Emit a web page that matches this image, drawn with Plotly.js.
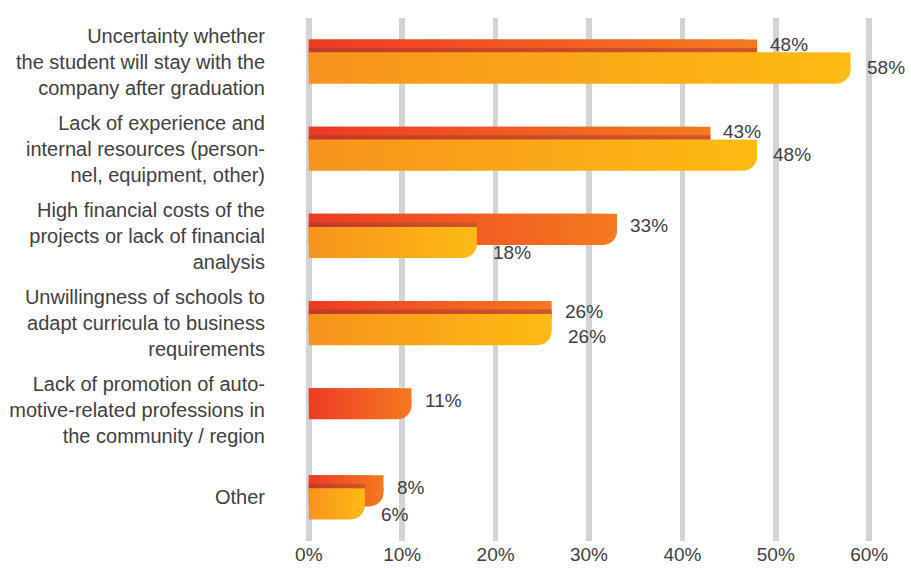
<!DOCTYPE html>
<html>
<head>
<meta charset="utf-8">
<script src="https://cdn.plot.ly/plotly-3.0.1.min.js"></script>
<style>
  html, body { margin: 0; padding: 0; background: #ffffff; }
  #chart { width: 911px; height: 568px; }
</style>
</head>
<body>
<div id="chart"></div>
<script>
// ---- data ----
var categories = [
  "Uncertainty whether<br>the student will stay with the<br>company after graduation",
  "Lack of experience and<br>internal resources (person-<br>nel, equipment, other)",
  "High financial costs of the<br>projects or lack of financial<br>analysis",
  "Unwillingness of schools to<br>adapt curricula to business<br>requirements",
  "Lack of promotion of auto-<br>motive-related professions in<br>the community / region",
  "Other"
];
var seriesRed = [48, 43, 33, 26, 11, 8];
var seriesYellow = [58, 48, 18, 26, null, 6];
var xTickValues = [0, 10, 20, 30, 40, 50, 60];
var xTickLabels = ["0%", "10%", "20%", "30%", "40%", "50%", "60%"];

// ---- styles ----
var FONT = "Liberation Sans, Arial, Helvetica, sans-serif";
var TEXT_COLOR = "#414042";
var BAR_W = 0.356, RED_OFF = -0.253, YEL_OFF = -0.103, SHADOW_W = 0.052;

// shadow band where the front bar overlaps the back bar
var shadowVals = seriesRed.map(function (r, i) {
  var y = seriesYellow[i];
  return (y === null) ? null : Math.min(r, y);
});

function barTrace(name, x, offset, width, color, rounded, grad) {
  return {
    type: "bar", orientation: "h", name: name,
    y: categories, x: x, offset: offset, width: width,
    marker: { color: color, cornerradius: rounded ? 14 : 0, line: { width: 0 } },
    showlegend: false, hoverinfo: "skip", meta: grad
  };
}

var data = [
  barTrace("Red", seriesRed, RED_OFF, BAR_W, "#F15A24", true, "gRed"),
  barTrace("Red top", seriesRed, RED_OFF, BAR_W / 2, "#F15A24", false, "gRed"),
  barTrace("Shadow", shadowVals, YEL_OFF - SHADOW_W, SHADOW_W, "#C8492B", false, "gShadow"),
  barTrace("Yellow", seriesYellow, YEL_OFF, BAR_W, "#FAA61A", true, "gYel"),
  barTrace("Yellow top", seriesYellow, YEL_OFF, BAR_W / 2, "#FAA61A", false, "gYel")
];

// ---- value labels ----
var annotations = [];
categories.forEach(function (c, i) {
  var r = seriesRed[i], y = seriesYellow[i];
  var rShift, yShift;
  if (y === null) { rShift = -10; }
  else if (r < y) { rShift = -17; yShift = 6; }
  else if (r === y) { rShift = -12; yShift = 13; }
  else { rShift = -10; yShift = 17; }
  annotations.push({
    x: r, y: c, xref: "x", yref: "y", text: r + "%", showarrow: false,
    xanchor: "left", yanchor: "middle", xshift: 11, yshift: -rShift,
    font: { family: FONT, size: 19, color: TEXT_COLOR }
  });
  if (y !== null) {
    annotations.push({
      x: y, y: c, xref: "x", yref: "y", text: y + "%", showarrow: false,
      xanchor: "left", yanchor: "middle", xshift: 14, yshift: -yShift,
      font: { family: FONT, size: 19, color: TEXT_COLOR }
    });
  }
});

var layout = {
  width: 911, height: 568,
  margin: { l: 305.7, r: 38.7, t: 18, b: 27, pad: 0 },
  paper_bgcolor: "#ffffff", plot_bgcolor: "#ffffff",
  barmode: "overlay",
  font: { family: FONT, size: 19, color: TEXT_COLOR },
  xaxis: {
    range: [-0.3, 60.3], tickvals: xTickValues, ticktext: xTickLabels,
    showgrid: true, gridcolor: "#D1D3D4", gridwidth: 5.5,
    zeroline: false, showline: false, ticks: "",
    tickfont: { family: FONT, size: 19, color: TEXT_COLOR }
  },
  yaxis: {
    type: "category", autorange: "reversed",
    showgrid: false, zeroline: false, showline: false, ticks: "",
    ticklabelstandoff: 40,
    tickfont: { family: FONT, size: 20, color: TEXT_COLOR }
  },
  annotations: annotations,
  showlegend: false
};

Plotly.newPlot("chart", data, layout, { staticPlot: true, displayModeBar: false }).then(function (gd) {
  var ns = "http://www.w3.org/2000/svg";
  var svg = gd.querySelector("svg.main-svg");
  var defs = svg.querySelector("defs");
  if (!defs) { defs = document.createElementNS(ns, "defs"); svg.insertBefore(defs, svg.firstChild); }
  function grad(id, c1, c2) {
    var g = document.createElementNS(ns, "linearGradient");
    g.setAttribute("id", id);
    g.setAttribute("x1", "0"); g.setAttribute("y1", "0");
    g.setAttribute("x2", "1"); g.setAttribute("y2", "0");
    [[0, c1], [1, c2]].forEach(function (s) {
      var st = document.createElementNS(ns, "stop");
      st.setAttribute("offset", s[0]);
      st.setAttribute("stop-color", s[1]);
      g.appendChild(st);
    });
    defs.appendChild(g);
  }
  grad("gRed", "#EE3A25", "#F47A20");
  grad("gYel", "#F7931D", "#FDBB13");
  grad("gShadow", "#C03A28", "#D0562A");
  var traces = gd.querySelectorAll(".barlayer .trace");
  traces.forEach(function (t, i) {
    var id = data[i] && data[i].meta;
    if (!id) return;
    t.querySelectorAll("path").forEach(function (p) {
      p.style.fill = "url(#" + id + ")";
    });
  });
});
</script>
</body>
</html>
